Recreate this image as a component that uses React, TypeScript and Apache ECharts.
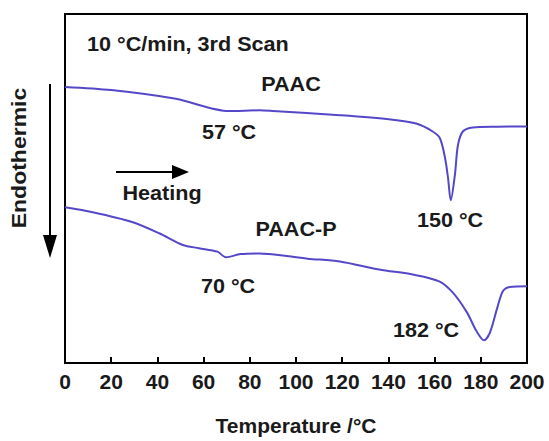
import React, { useEffect, useRef } from "react";
import * as echarts from "echarts";

const xTicks = [0, 20, 40, 60, 80, 100, 120, 140, 160, 180, 200];

const paacT = [0, 20, 48, 71, 84, 90, 119, 141, 152, 159, 162.3, 164.5, 165.8, 167, 168.8, 170.1, 172.3, 176.6, 187, 200];
const paacV = [79.1, 78.2, 75.7, 72.2, 72.4, 72.2, 71.0, 69.8, 68.6, 66.4, 64.4, 58.8, 53.1, 46.6, 54.0, 62.4, 66.4, 67.5, 67.7, 67.8];

const paacpT = [0, 12, 29, 41, 51, 58, 66, 69.6, 76, 84, 105, 119, 136, 151, 162, 168, 174, 178, 181.4, 184, 187, 189.6, 192.6, 200];
const paacpV = [44.6, 43.2, 40.4, 37.1, 33.8, 32.9, 31.9, 30.3, 31.2, 31.4, 29.9, 29.1, 26.8, 25.3, 23.4, 20.1, 14.5, 9.3, 6.5, 8.8, 15.5, 20.6, 21.8, 22.0];

const seriesNames = ["PAAC", "PAAC-P"];

export default function App() {
  const ref = useRef<HTMLDivElement>(null);
  useEffect(() => {
    if (!ref.current) return;
    const chart = echarts.init(ref.current, null, { renderer: "svg" });
    const font = "bold 20px 'Liberation Sans', Arial, sans-serif";
    const sx = 1.08;
    const txt = (text: string, x: number, y: number, extra: any = {}) => ({
      type: "text",
      x,
      y,
      scaleX: sx,
      ...extra,
      style: { text, x: 0, y: 0, font, fill: "#1a1a1a", textAlign: "center", textVerticalAlign: "middle" },
    });
    const lineColor = "#5548c8";
    chart.setOption({
      animation: false,
      backgroundColor: "#ffffff",
      grid: { left: 65, right: 22, top: 14, bottom: 73, show: true, borderColor: "#000", borderWidth: 2 },
      xAxis: {
        type: "value",
        min: 0,
        max: 200,
        interval: 20,
        name: "Temperature /°C",
        nameLocation: "middle",
        nameGap: 52,
        nameTextStyle: { fontFamily: "'Liberation Sans', Arial", fontWeight: "bold", fontSize: 21, color: "#1a1a1a" },
        axisLine: { show: true, lineStyle: { color: "#000", width: 2 } },
        axisTick: { show: true, inside: true, length: 6, lineStyle: { color: "#000", width: 2 } },
        axisLabel: {
          margin: 8,
          fontFamily: "'Liberation Sans', Arial",
          fontWeight: "bold",
          fontSize: 21,
          color: "#1a1a1a",
          formatter: (v: number) => (xTicks.includes(v) ? String(v) : ""),
        },
        splitLine: { show: false },
      },
      yAxis: {
        type: "value",
        min: 0,
        max: 100,
        axisLine: { show: true, lineStyle: { color: "#000", width: 2 } },
        axisTick: { show: false },
        axisLabel: { show: false },
        splitLine: { show: false },
      },
      series: [
        {
          name: seriesNames[0],
          type: "line",
          data: paacT.map((t, i) => [t, paacV[i]]),
          showSymbol: false,
          smooth: 0.3,
          lineStyle: { color: lineColor, width: 2 },
        },
        {
          name: seriesNames[1],
          type: "line",
          data: paacpT.map((t, i) => [t, paacpV[i]]),
          showSymbol: false,
          smooth: 0.3,
          lineStyle: { color: lineColor, width: 2 },
        },
      ],
      graphic: [
        { type: "text", x: 87, y: 44, scaleX: sx, style: { text: "10 °C/min, 3rd Scan", x: 0, y: 0, font, fill: "#1a1a1a", textAlign: "left", textVerticalAlign: "middle" } },
        txt("PAAC", 291, 84),
        txt("57 °C", 229, 132),
        txt("Heating", 162, 193),
        txt("PAAC-P", 296, 229),
        txt("70 °C", 228, 286),
        txt("150 °C", 450, 220),
        txt("182 °C", 426, 330),
        txt("Endothermic", 19, 158, { rotation: Math.PI / 2, scaleX: 1.15 }),
        { type: "line", shape: { x1: 50, y1: 84, x2: 50, y2: 236 }, style: { stroke: "#000", lineWidth: 2 } },
        { type: "polygon", shape: { points: [[43, 235], [57, 235], [50, 258]] }, style: { fill: "#000" } },
        { type: "line", shape: { x1: 116, y1: 172, x2: 173, y2: 172 }, style: { stroke: "#000", lineWidth: 2 } },
        { type: "polygon", shape: { points: [[172, 165], [172, 179], [189, 172]] }, style: { fill: "#000" } },
      ],
    });
    return () => chart.dispose();
  }, []);
  return <div ref={ref} style={{ position: "fixed", left: 0, top: 0, width: 549, height: 441 }} />;
}
